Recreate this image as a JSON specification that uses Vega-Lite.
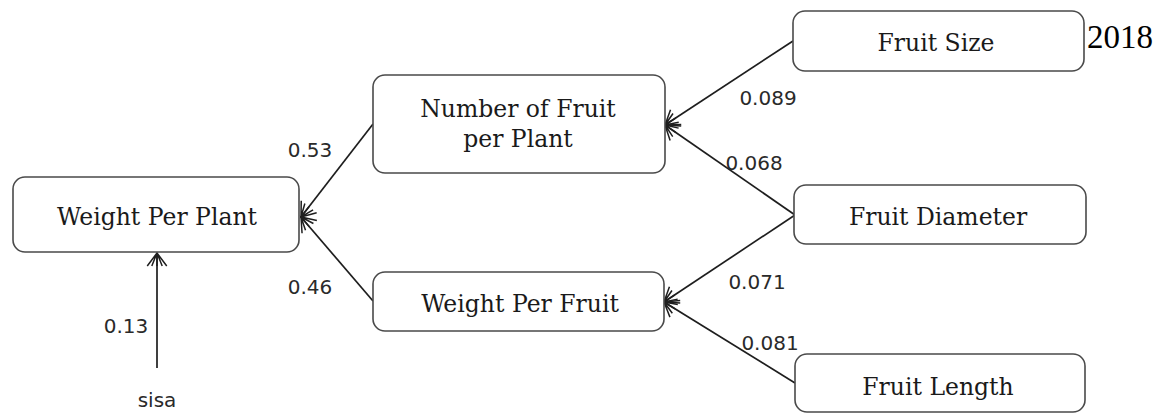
{
  "$schema": "https://vega.github.io/schema/vega-lite/v6.json",
  "width": 1159,
  "height": 414,
  "autosize": {"type": "fit", "contains": "padding"},
  "padding": 0,
  "background": "white",
  "config": {"view": {"stroke": null}},
  "datasets": {
    "nodes": [
      {"name": "Weight Per Plant", "x1": 13, "x2": 299, "y1": 177, "y2": 252},
      {"name": "Number of Fruit per Plant", "x1": 373, "x2": 665, "y1": 75, "y2": 173},
      {"name": "Weight Per Fruit", "x1": 373, "x2": 664, "y1": 272, "y2": 331},
      {"name": "Fruit Size", "x1": 793, "x2": 1084, "y1": 11, "y2": 71},
      {"name": "Fruit Diameter", "x1": 794, "x2": 1086, "y1": 185, "y2": 244},
      {"name": "Fruit Length", "x1": 795, "x2": 1085, "y1": 354, "y2": 412}
    ],
    "nodeLabels": [
      {"text": "Weight Per Plant", "x": 157, "y": 225},
      {"text": "Number of Fruit", "x": 518, "y": 117},
      {"text": "per Plant", "x": 518, "y": 147},
      {"text": "Weight Per Fruit", "x": 520, "y": 312},
      {"text": "Fruit Size", "x": 936, "y": 51},
      {"text": "Fruit Diameter", "x": 938, "y": 225},
      {"text": "Fruit Length", "x": 938, "y": 395}
    ],
    "edges": [
      {"from": "Fruit Size", "to": "Number of Fruit per Plant", "x": 793, "y": 41, "x2": 665, "y2": 125},
      {"from": "Fruit Diameter", "to": "Number of Fruit per Plant", "x": 795, "y": 215, "x2": 665, "y2": 125},
      {"from": "Fruit Diameter", "to": "Weight Per Fruit", "x": 795, "y": 215, "x2": 664, "y2": 302},
      {"from": "Fruit Length", "to": "Weight Per Fruit", "x": 795, "y": 383, "x2": 664, "y2": 302},
      {"from": "Number of Fruit per Plant", "to": "Weight Per Plant", "x": 373, "y": 124, "x2": 301, "y2": 217},
      {"from": "Weight Per Fruit", "to": "Weight Per Plant", "x": 373, "y": 301, "x2": 301, "y2": 217},
      {"from": "sisa", "to": "Weight Per Plant", "x": 157, "y": 368, "x2": 157, "y2": 253}
    ],
    "coefs": [
      {"text": "0.089", "x": 768, "y": 105},
      {"text": "0.068", "x": 754, "y": 170},
      {"text": "0.071", "x": 757, "y": 289},
      {"text": "0.081", "x": 770, "y": 350},
      {"text": "0.53", "x": 310, "y": 157},
      {"text": "0.46", "x": 310, "y": 294},
      {"text": "0.13", "x": 126, "y": 333},
      {"text": "sisa", "x": 157, "y": 407}
    ],
    "year": [
      {"text": "2018", "x": 1120, "y": 48}
    ]
  },
  "layer": [
    {
      "data": {"name": "edges"},
      "mark": {"type": "rule", "stroke": "#1e1e1e", "strokeWidth": 1.7},
      "encoding": {
        "x": {"field": "x", "type": "quantitative", "scale": {"domain": [0, 1159], "nice": false, "zero": false}, "axis": null},
        "y": {"field": "y", "type": "quantitative", "scale": {"domain": [0, 414], "nice": false, "zero": false, "reverse": true}, "axis": null},
        "x2": {"field": "x2"},
        "y2": {"field": "y2"}
      }
    },
    {
      "data": {"name": "edges"},
      "transform": [
        {"calculate": "atan2(datum.y2 - datum.y, datum.x2 - datum.x) * 180 / PI", "as": "ang"}
      ],
      "mark": {
        "type": "point",
        "shape": "M-1,-0.75L0,0L-1,0.75M-1,-0.4L0,0L-1,0.4M-1,0L0,0",
        "filled": false,
        "stroke": "#1e1e1e",
        "strokeWidth": 1.5,
        "size": 676,
        "opacity": 1
      },
      "encoding": {
        "x": {"field": "x2", "type": "quantitative", "axis": null},
        "y": {"field": "y2", "type": "quantitative", "axis": null},
        "angle": {"field": "ang", "type": "quantitative", "scale": null}
      }
    },
    {
      "data": {"name": "nodes"},
      "mark": {"type": "rect", "cornerRadius": 12, "fill": "white", "stroke": "#4a4a4a", "strokeWidth": 1.6},
      "encoding": {
        "x": {"field": "x1", "type": "quantitative", "axis": null},
        "x2": {"field": "x2"},
        "y": {"field": "y1", "type": "quantitative", "axis": null},
        "y2": {"field": "y2"}
      }
    },
    {
      "data": {"name": "nodeLabels"},
      "mark": {"type": "text", "font": "DejaVu Serif", "fontSize": 23.5, "fill": "#1a1a1a", "align": "center", "baseline": "alphabetic"},
      "encoding": {
        "x": {"field": "x", "type": "quantitative", "axis": null},
        "y": {"field": "y", "type": "quantitative", "axis": null},
        "text": {"field": "text"}
      }
    },
    {
      "data": {"name": "coefs"},
      "mark": {"type": "text", "font": "DejaVu Sans", "fontSize": 20, "fill": "#2a2a2a", "align": "center", "baseline": "alphabetic"},
      "encoding": {
        "x": {"field": "x", "type": "quantitative", "axis": null},
        "y": {"field": "y", "type": "quantitative", "axis": null},
        "text": {"field": "text"}
      }
    },
    {
      "data": {"name": "year"},
      "mark": {"type": "text", "font": "Liberation Serif", "fontSize": 33, "fill": "#000000", "align": "center", "baseline": "alphabetic"},
      "encoding": {
        "x": {"field": "x", "type": "quantitative", "axis": null},
        "y": {"field": "y", "type": "quantitative", "axis": null},
        "text": {"field": "text"}
      }
    }
  ]
}
